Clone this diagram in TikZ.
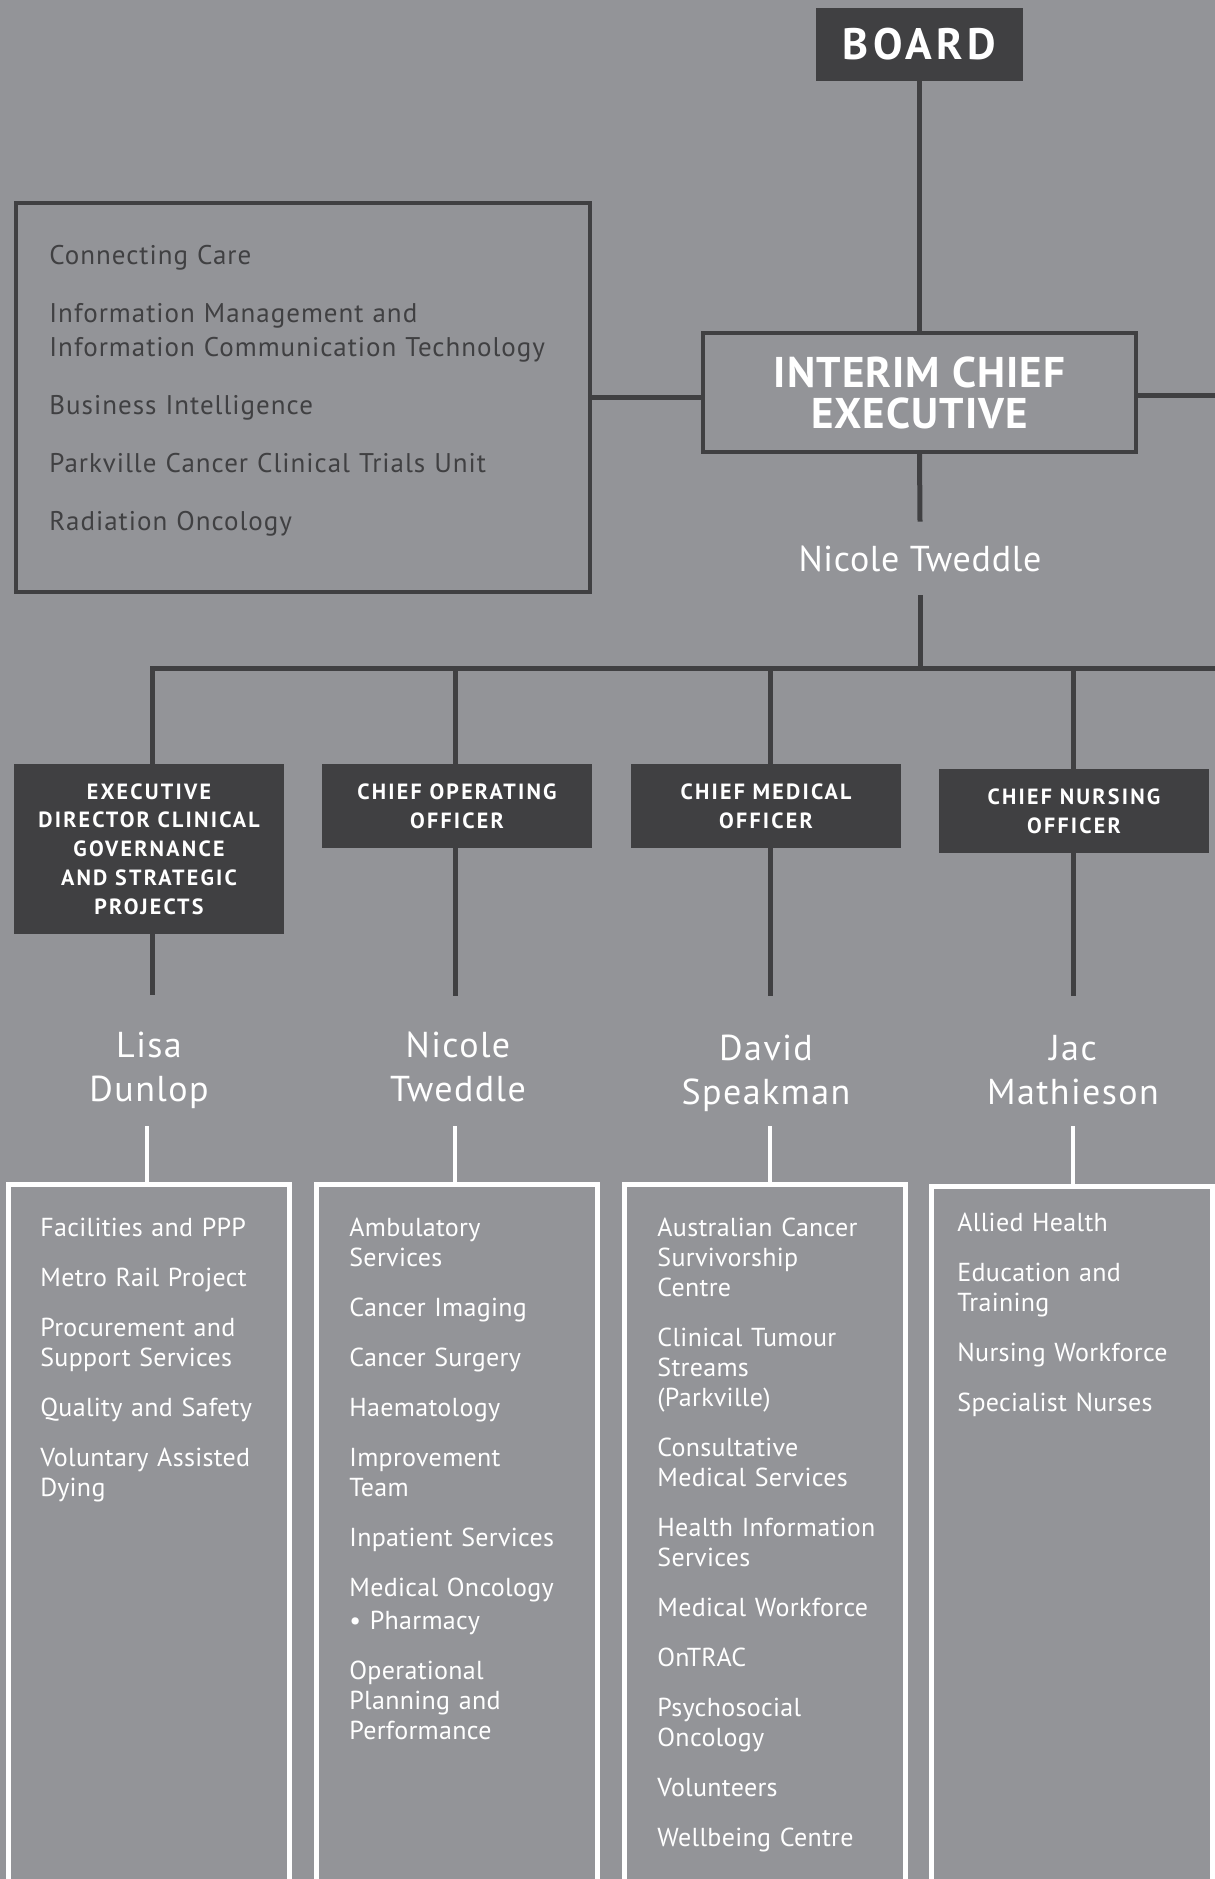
\documentclass[tikz,border=0pt]{standalone}
\usepackage{fontspec}
\setmainfont{PT Sans}
\newfontfamily\leftfont[LetterSpace=3.7]{PT Sans}
\newfontfamily\itemfont[LetterSpace=1.2]{PT Sans}
\newfontfamily\namefont[LetterSpace=4]{PT Sans}
\newfontfamily\ceofont[LetterSpace=2]{PT Sans}
\newfontfamily\execfont[LetterSpace=10]{PT Sans}
\newfontfamily\boardfont[LetterSpace=10]{PT Sans}
\newfontfamily\icefont[LetterSpace=2.5]{PT Sans}
\definecolor{bg}{RGB}{147,148,152}
\definecolor{dk}{RGB}{64,64,66}
\begin{document}
\begin{tikzpicture}[x=0.5pt,y=-0.5pt,
  darkline/.style={draw=dk,line width=2.5pt},
  whiteline/.style={draw=white,line width=2.3pt},
  headbox/.style={fill=dk,text=white,align=center,inner sep=0pt,outer sep=0pt},
  execbox/.style={headbox,minimum width=135pt,font=\execfont\fontsize{11}{14.4}\selectfont\bfseries},
  framebox/.style={draw=dk,line width=2pt,inner sep=0pt,outer sep=0pt},
  listbox/.style={draw=white,line width=2.5pt,inner sep=0pt,outer sep=0pt,minimum width=140.5pt,minimum height=357.5pt,anchor=north},
  nametext/.style={text=white,inner sep=0pt,text width=120pt,align=center,font=\namefont\fontsize{18}{22}\selectfont,anchor=base},
  itemtext/.style={text=white,inner sep=0pt,text width=135pt,align=left,font=\itemfont\fontsize{13}{15}\selectfont,anchor=base west},
]
\useasboundingbox (0,0) rectangle (1215,1879);
\clip (0,0) rectangle (1215,1879);
\fill[bg] (0,0) rectangle (1215,1879);

% top
\node[headbox,minimum width=103.5pt,minimum height=36.5pt,font=\boardfont\fontsize{22}{24}\selectfont\bfseries] (board) at (919.5,44.5) {BOARD};
\node[framebox,minimum width=216.5pt,minimum height=59.5pt,text=white,align=center,font=\icefont\fontsize{21.5}{20.5}\selectfont\bfseries] (ice) at (919.5,392.5) {INTERIM CHIEF\\EXECUTIVE};
\node[framebox,minimum width=287pt,minimum height=194.5pt] (leftbox) at (303,397) {};
\node[text=dk,inner sep=0pt,text width=270pt,align=left,anchor=base west,font=\leftfont\fontsize{13.5}{17}\selectfont] (lefttext) at (49,264)
  {Connecting Care\\[12pt]Information Management and\\Information Communication Technology\\[12pt]Business Intelligence\\[12pt]Parkville Cancer Clinical Trials Unit\\[12pt]Radiation Oncology};
\node[text=white,inner sep=0pt,minimum height=36.5pt,font=\ceofont\fontsize{18}{22}\selectfont] (ceoname) at (920,558.5) {Nicole Tweddle};
\coordinate (hR) at (1215,668);
\coordinate (eR) at (1215,395);

\draw[darkline] (board.south) -- (ice.north);
\draw[darkline] (leftbox.east) -- (leftbox.east -| ice.west);
\draw[darkline] (ice.east |- eR) -- (eR);
\draw[darkline] (ice.south) -- (ceoname.north);
\draw[darkline] (ceoname.south) -- (ceoname.south |- hR);

% executive boxes
\node[execbox,minimum height=85pt] (e1) at (149,849) {EXECUTIVE\\DIRECTOR CLINICAL\\GOVERNANCE\\AND STRATEGIC\\PROJECTS};
\node[execbox,minimum height=42pt] (e2) at (457,806) {CHIEF OPERATING\\OFFICER};
\node[execbox,minimum height=42pt] (e3) at (766,806) {CHIEF MEDICAL\\OFFICER};
\node[execbox,minimum height=42pt] (e4) at (1074,811) {CHIEF NURSING\\OFFICER};

\draw[darkline] ([xshift=1.5pt]e1.north) |- (hR);
\draw[darkline] ([xshift=-1pt]e2.north) -- ([xshift=-1pt]e2.north |- hR);
\draw[darkline] ([xshift=2pt]e3.north) -- ([xshift=2pt]e3.north |- hR);
\draw[darkline] ([xshift=-0.5pt]e4.north) -- ([xshift=-0.5pt]e4.north |- hR);

% names
\node[nametext] (n1) at (149,1057.5) {Lisa\\Dunlop};
\node[nametext] (n2) at (458,1057.5) {Nicole\\Tweddle};
\node[nametext] (n3) at (766,1060.5) {David\\Speakman};
\node[nametext] (n4) at (1073,1060.5) {Jac\\Mathieson};

\coordinate (d1) at (152,995);
\coordinate (d2) at (455,996);
\coordinate (d3) at (770,996);
\coordinate (d4) at (1073,996);
\draw[darkline] (d1 |- e1.south) -- (d1);
\draw[darkline] (d2 |- e2.south) -- (d2);
\draw[darkline] (d3 |- e3.south) -- (d3);
\draw[darkline] (d4 |- e4.south) -- (d4);

% list boxes
\node[listbox] (b1) at (149,1184.5) {};
\node[listbox] (b2) at (457,1184.5) {};
\node[listbox] (b3) at (765,1184.5) {};
\node[listbox] (b4) at (1072,1186.5) {};

\coordinate (w1) at (147,1126);
\coordinate (w2) at (455,1126);
\coordinate (w3) at (770,1126);
\coordinate (w4) at (1073,1126);
\draw[whiteline] (w1) -- (w1 |- b1.north);
\draw[whiteline] (w2) -- (w2 |- b2.north);
\draw[whiteline] (w3) -- (w3 |- b3.north);
\draw[whiteline] (w4) -- (w4 |- b4.north);

\node[itemtext] (t1) at (40,1236)
  {Facilities and PPP\\[10pt]Metro Rail Project\\[10pt]Procurement and\\Support Services\\[10pt]Quality and Safety\\[10pt]Voluntary Assisted\\Dying};
\node[itemtext] (t2) at (349,1236)
  {Ambulatory\\Services\\[10pt]Cancer Imaging\\[10pt]Cancer Surgery\\[10pt]Haematology\\[10pt]Improvement\\Team\\[10pt]Inpatient Services\\[10pt]Medical Oncology\\[1.5pt]• Pharmacy\\[10pt]Operational\\Planning and\\Performance};
\node[itemtext] (t3) at (657,1236)
  {Australian Cancer\\Survivorship\\Centre\\[10pt]Clinical Tumour\\Streams\\(Parkville)\\[10pt]Consultative\\Medical Services\\[10pt]Health Information\\Services\\[10pt]Medical Workforce\\[10pt]OnTRAC\\[10pt]Psychosocial\\Oncology\\[10pt]Volunteers\\[10pt]Wellbeing Centre};
\node[itemtext] (t4) at (957,1231)
  {Allied Health\\[10pt]Education and\\Training\\[10pt]Nursing Workforce\\[10pt]Specialist Nurses};
\end{tikzpicture}
\end{document}
